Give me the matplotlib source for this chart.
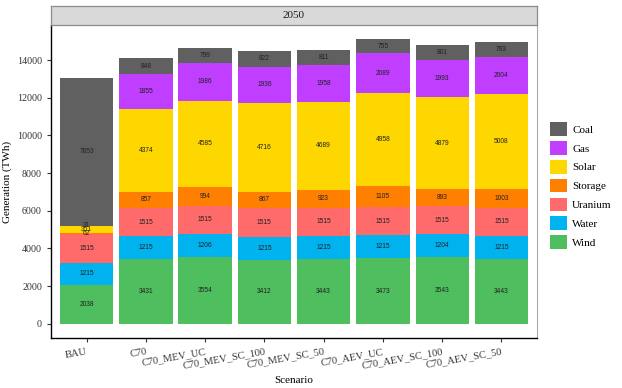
import matplotlib
matplotlib.use("Agg")
import matplotlib.pyplot as plt
from matplotlib.patches import Patch
import numpy as np

scenarios = ["BAU", "C70", "C70_MEV_UC", "C70_MEV_SC_100", "C70_MEV_SC_50",
             "C70_AEV_UC", "C70_AEV_SC_100", "C70_AEV_SC_50"]

# stacked from bottom to top
wind = [2038, 3431, 3554, 3412, 3443, 3473, 3543, 3443]
water = [1215, 1215, 1206, 1215, 1215, 1215, 1204, 1215]
uranium = [1515, 1515, 1515, 1515, 1515, 1515, 1515, 1515]
storage = [62, 857, 994, 867, 923, 1105, 893, 1003]
solar = [351, 4374, 4585, 4716, 4689, 4958, 4879, 5008]
gas = [31, 1855, 1986, 1936, 1958, 2089, 1993, 2004]
coal = [7853, 848, 799, 822, 811, 755, 801, 793]

sources = ["Wind", "Water", "Uranium", "Storage", "Solar", "Gas", "Coal"]
series = [wind, water, uranium, storage, solar, gas, coal]
colors = {"Coal": "#606060", "Gas": "#BF3EFF", "Solar": "#FFD700",
          "Storage": "#FF7F00", "Uranium": "#FF6A6A", "Water": "#00B2EE",
          "Wind": "#4EBE5E"}

serif = "Liberation Serif"

fig = plt.figure(figsize=(6.22, 3.88), dpi=100)
ax = fig.add_axes([51 / 622, 50 / 388, 486 / 622, 313 / 388])

x = np.arange(1, len(scenarios) + 1)
bottom = np.zeros(len(scenarios))
for name, vals in zip(sources, series):
    vals = np.array(vals, dtype=float)
    ax.bar(x, vals, bottom=bottom, width=0.9, color=colors[name], linewidth=0)
    for xi, b, v in zip(x, bottom, vals):
        ax.text(xi, b + v / 2, f"{int(v)}", ha="center", va="center",
                fontsize=4.8, family="Liberation Sans", color="#222222")
    bottom += vals

ax.set_xlim(0.4, 8.6)
ax.set_ylim(-755, 15865)
ax.set_yticks(np.arange(0, 14001, 2000))
ax.set_yticklabels([str(v) for v in range(0, 14001, 2000)], family=serif, fontsize=7.2, color="#333333")
ax.set_xticks(x)
ax.set_xticklabels(scenarios, family=serif, fontsize=7.5, color="#333333",
                   rotation=10, ha="right", va="top", rotation_mode="anchor")
ax.tick_params(direction="out", length=3, width=0.8, colors="#333333")
ax.set_xlabel("Scenario", family=serif, fontsize=8)
ax.xaxis.set_label_coords(0.5, -38 / 313)
ax.set_ylabel("Generation (TWh)", family=serif, fontsize=8)
ax.yaxis.set_label_coords(-39 / 486, 0.5)

ax.spines["top"].set_visible(False)
ax.spines["right"].set_color("#AAAAAA")
ax.spines["right"].set_linewidth(0.8)
ax.spines["left"].set_linewidth(1.0)
ax.spines["bottom"].set_linewidth(1.0)

# facet strip
strip = fig.add_axes([51 / 622, 363 / 388, 486 / 622, 19 / 388])
strip.set_facecolor("#D9D9D9")
strip.set_xticks([])
strip.set_yticks([])
for s in strip.spines.values():
    s.set_color("#8C8C8C")
    s.set_linewidth(0.9)
strip.text(0.5, 0.5, "2050", ha="center", va="center", family=serif, fontsize=8, color="#1A1A1A",
           transform=strip.transAxes)

handles = [Patch(facecolor=colors[n], edgecolor="none", label=n)
           for n in ["Coal", "Gas", "Solar", "Storage", "Uranium", "Water", "Wind"]]
fig.legend(handles=handles, loc="upper left", bbox_to_anchor=(546 / 622, 1 - 118 / 388),
           frameon=False, prop={"family": serif, "size": 8}, handlelength=1.5,
           handleheight=1.5, labelspacing=0.47, handletextpad=0.45, borderaxespad=0)

fig.savefig("out.png", dpi=100)
